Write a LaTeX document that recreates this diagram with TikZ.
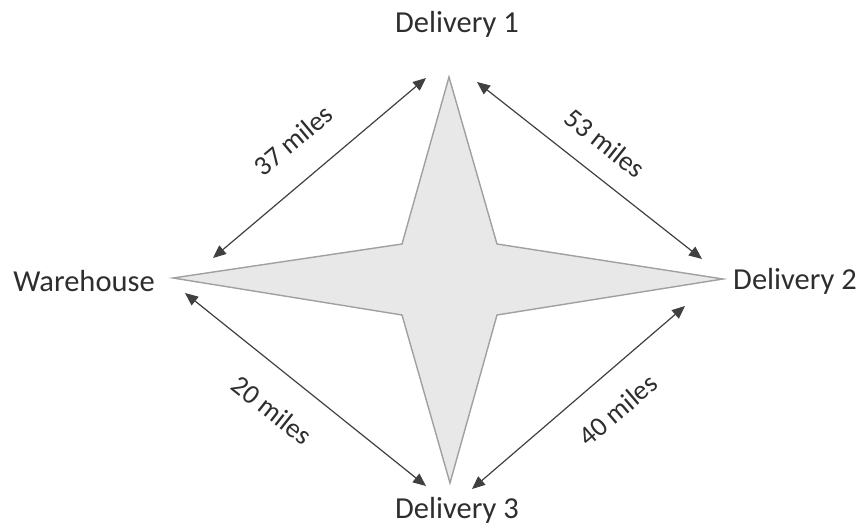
\documentclass[tikz,border=0pt]{standalone}
\usepackage{fontspec}
\setmainfont{Carlito}
\usetikzlibrary{arrows.meta}
\definecolor{txt}{HTML}{2E2E2E}
\definecolor{arr}{HTML}{404040}
\definecolor{starfill}{HTML}{E8E8E8}
\definecolor{starline}{HTML}{A0A0A0}
\tikzset{
  place/.style={anchor=base, inner sep=0pt, text=txt, font=\fontsize{30.5}{35}\selectfont},
  dist/.style={inner sep=0pt, text=txt, font=\fontsize{27.5}{32}\selectfont},
  link/.style={draw=arr, line width=1.2pt, {Triangle[length=13pt,width=11pt]}-{Triangle[length=13pt,width=11pt]}},
  starshape/.style={fill=starfill, draw=starline, line width=1.4pt, line join=miter}
}
\begin{document}
\begin{tikzpicture}[x=1pt,y=-1pt]
\useasboundingbox (0,0) rectangle (859,529);
% star
\draw[starshape] (449,77) -- (497,244) -- (723,279) -- (497,315) -- (450,483) -- (402,315) -- (173,278) -- (402,244) -- cycle;
% place names
\node[place] (d1) at (457,33) {Delivery 1};
\node[place] (wh) at (84,291) {Warehouse};
\node[place] (d2) at (795,290) {Delivery 2};
\node[place] (d3) at (457,518) {Delivery 3};
% arrow ends
\coordinate (a1) at (213,258);
\coordinate (a2) at (426,78);
\coordinate (b1) at (477,82);
\coordinate (b2) at (702,259);
\coordinate (c1) at (185,293);
\coordinate (c2) at (426,486);
\coordinate (e1) at (472,489);
\coordinate (e2) at (685,306);
\draw[link] (a1) -- (a2);
\draw[link] (b1) -- (b2);
\draw[link] (c1) -- (c2);
\draw[link] (e1) -- (e2);
% distance labels
\node[dist, rotate=40] (l37) at (293,140) {37 miles};
\node[dist, rotate=-38.5] (l53) at (605,143) {53 miles};
\node[dist, rotate=-38.5] (l20) at (272,410) {20 miles};
\node[dist, rotate=40.5] (l40) at (618,410) {40 miles};
\end{tikzpicture}
\end{document}
